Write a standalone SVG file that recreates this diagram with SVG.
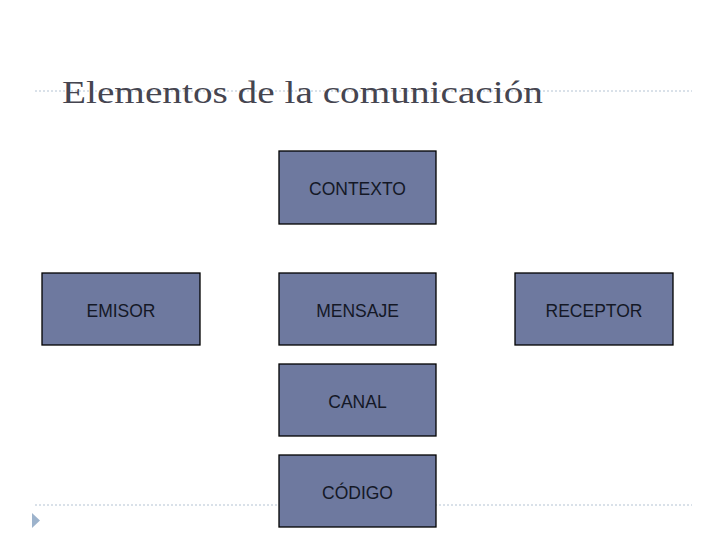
<svg xmlns="http://www.w3.org/2000/svg" width="728" height="546" viewBox="0 0 728 546">
<style>
.box{fill:#6e799f;stroke:#000;stroke-width:1.3}
.lbl{font-family:"Liberation Sans",Arial,sans-serif;font-size:17.5px;fill:#141826;text-anchor:middle}
.rule{stroke:#b4c3d3;stroke-width:1;stroke-dasharray:2 2}
</style>
<rect width="728" height="546" fill="#fff"/>
<line class="rule" x1="35" y1="91" x2="692" y2="91"/>
<line class="rule" x1="35" y1="505" x2="692" y2="505"/>
<polygon points="32,513 40,520.5 32,528" fill="#9db3cc"/>
<text x="62" y="103" font-family="'Liberation Serif','DejaVu Serif',serif" font-size="31" fill="#454550" textLength="481" lengthAdjust="spacingAndGlyphs">Elementos de la comunicación</text>
<g id="contexto"><rect class="box" x="279" y="151" width="157" height="73"/><text class="lbl" x="357.5" y="195">CONTEXTO</text></g>
<g id="emisor"><rect class="box" x="42" y="273" width="158" height="72"/><text class="lbl" x="121" y="317">EMISOR</text></g>
<g id="mensaje"><rect class="box" x="279" y="273" width="157" height="72"/><text class="lbl" x="357.5" y="317">MENSAJE</text></g>
<g id="receptor"><rect class="box" x="515" y="273" width="158" height="72"/><text class="lbl" x="594" y="317">RECEPTOR</text></g>
<g id="canal"><rect class="box" x="279" y="364" width="157" height="72"/><text class="lbl" x="357.5" y="408">CANAL</text></g>
<g id="codigo"><rect class="box" x="279" y="455" width="157" height="72"/><text class="lbl" x="357.5" y="499">CÓDIGO</text></g>
<g id="connectors"></g>
</svg>
